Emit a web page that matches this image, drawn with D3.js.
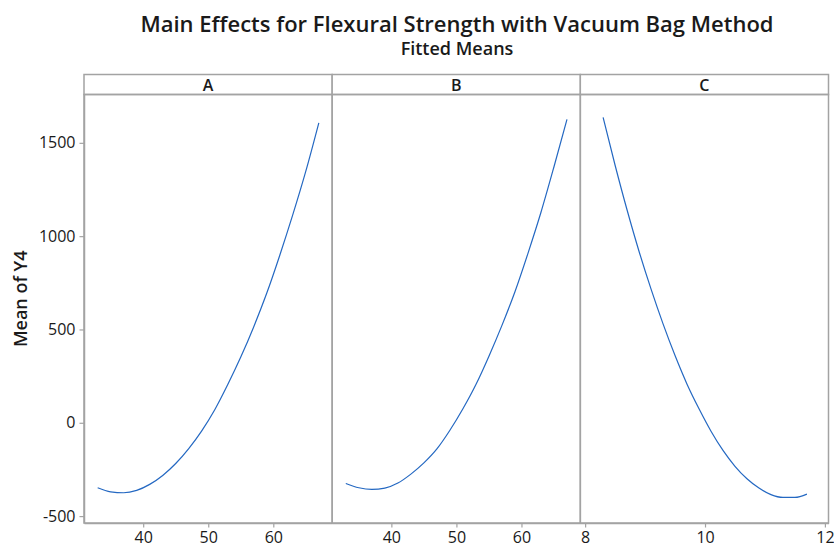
<!DOCTYPE html>
<html>
<head>
<meta charset="utf-8">
<script src="https://cdn.jsdelivr.net/npm/d3@7"></script>
<style>
  html, body { margin: 0; padding: 0; background: #fff; }
  svg { display: block; font-family: "Open Sans", "Noto Sans", sans-serif; }
</style>
</head>
<body>
<svg id="chart" width="834" height="548"></svg>
<script>
// Fitted means of Y4 for each factor
const factors = ["A", "B", "C"];

const xA = [33, 35, 37, 39, 41, 43, 45, 47, 49, 51, 53, 55, 57, 59, 61, 63, 65, 67];
const yA = [-348, -370, -375, -362, -330, -282, -218, -138, -43, 70, 205, 352, 515, 695, 898, 1115, 1348, 1607];

const xB = [33, 35, 37, 39, 41, 43, 45, 47, 49, 51, 53, 55, 57, 59, 61, 63, 65, 67];
const yB = [-325, -348, -357, -350, -323, -275, -215, -140, -40, 75, 205, 357, 522, 702, 908, 1128, 1372, 1626];

const xC = [8.3, 8.5, 8.7, 8.9, 9.1, 9.3, 9.5, 9.7, 9.9, 10.1, 10.3, 10.5, 10.7, 10.9, 11.1, 11.3, 11.5, 11.7];
const yC = [1636, 1380, 1140, 918, 716, 530, 360, 207, 75, -45, -148, -233, -300, -350, -385, -400, -400, -382];

const xTicksA = [40, 50, 60];
const xTicksB = [40, 50, 60];
const xTicksC = [8, 10, 12];
const yTicks = [-500, 0, 500, 1000, 1500];

const series = [
  { name: factors[0], x: xA, y: yA, ticks: xTicksA, domain: [30.9, 69.05] },
  { name: factors[1], x: xB, y: yB, ticks: xTicksB, domain: [30.9, 69.05] },
  { name: factors[2], x: xC, y: yC, ticks: xTicksC, domain: [7.92, 12.06] }
];

const svg = d3.select("#chart");
const gridColor = "#a3a3a3";
const lineColor = "#2468c2";
const textColor = "#1a1a1a";
const tickFont = 16;
// plain integers with an ASCII hyphen for negatives
const fmt = v => String(v);

const left = 84, right = 828.5;
const stripTop = 74.5, stripBottom = 94.5, plotBottom = 523;
const panelW = (right - left) / series.length;

const y = d3.scaleLinear().domain([-537, 1759]).range([plotBottom, stripBottom]);

// Titles
svg.append("text")
  .attr("x", 457).attr("y", 31.5)
  .attr("text-anchor", "middle")
  .attr("font-size", 22).attr("font-weight", 600)
  .attr("fill", textColor)
  .text("Main Effects for Flexural Strength with Vacuum Bag Method");

svg.append("text")
  .attr("x", 457).attr("y", 55)
  .attr("text-anchor", "middle")
  .attr("font-size", 18).attr("font-weight", 600)
  .attr("fill", textColor)
  .text("Fitted Means");

// Y axis title
svg.append("text")
  .attr("transform", `translate(26.5, ${(stripTop + plotBottom) / 2}) rotate(-90)`)
  .attr("text-anchor", "middle")
  .attr("font-size", 18).attr("font-weight", 600)
  .attr("fill", textColor)
  .text("Mean of Y4");

series.forEach((s, i) => {
  const x0 = left + i * panelW, x1 = x0 + panelW;
  const x = d3.scaleLinear().domain(s.domain).range([x0, x1]);

  // Strip header
  svg.append("rect")
    .attr("x", x0).attr("y", stripTop)
    .attr("width", panelW).attr("height", stripBottom - stripTop)
    .attr("fill", "#fff").attr("stroke", gridColor).attr("stroke-width", 1.5);
  svg.append("text")
    .attr("x", (x0 + x1) / 2).attr("y", stripBottom - 4)
    .attr("text-anchor", "middle")
    .attr("font-size", 16).attr("font-weight", 600)
    .attr("fill", textColor)
    .text(s.name);

  // Panel frame
  svg.append("rect")
    .attr("x", x0).attr("y", stripBottom)
    .attr("width", panelW).attr("height", plotBottom - stripBottom)
    .attr("fill", "none").attr("stroke", gridColor).attr("stroke-width", 1.5);

  // X axis
  const gx = svg.append("g")
    .attr("transform", `translate(0, ${plotBottom})`)
    .call(d3.axisBottom(x).tickValues(s.ticks).tickFormat(fmt)
      .tickSize(4.5).tickPadding(4).tickSizeOuter(0));
  gx.select(".domain").attr("stroke", gridColor).attr("stroke-width", 1.5);
  gx.selectAll(".tick line").attr("stroke", gridColor).attr("stroke-width", 1.2);
  gx.selectAll(".tick text")
    .attr("font-size", tickFont).attr("fill", textColor)
    .attr("font-family", "\"Open Sans\", sans-serif");

  // Curve
  const pts = s.x.map((v, k) => [v, s.y[k]]);
  svg.append("path")
    .datum(pts)
    .attr("fill", "none")
    .attr("stroke", lineColor)
    .attr("stroke-width", 1.2)
    .attr("d", d3.line().x(d => x(d[0])).y(d => y(d[1])).curve(d3.curveMonotoneX));
});

// Y axis
const gy = svg.append("g")
  .attr("transform", `translate(${left}, 0)`)
  .call(d3.axisLeft(y).tickValues(yTicks).tickFormat(fmt)
    .tickSize(4.5).tickPadding(4).tickSizeOuter(0));
gy.select(".domain").attr("stroke", gridColor).attr("stroke-width", 1.5);
gy.selectAll(".tick line").attr("stroke", gridColor).attr("stroke-width", 1.2);
gy.selectAll(".tick text")
  .attr("font-size", tickFont).attr("fill", textColor)
  .attr("font-family", "\"Open Sans\", sans-serif");
</script>
</body>
</html>
